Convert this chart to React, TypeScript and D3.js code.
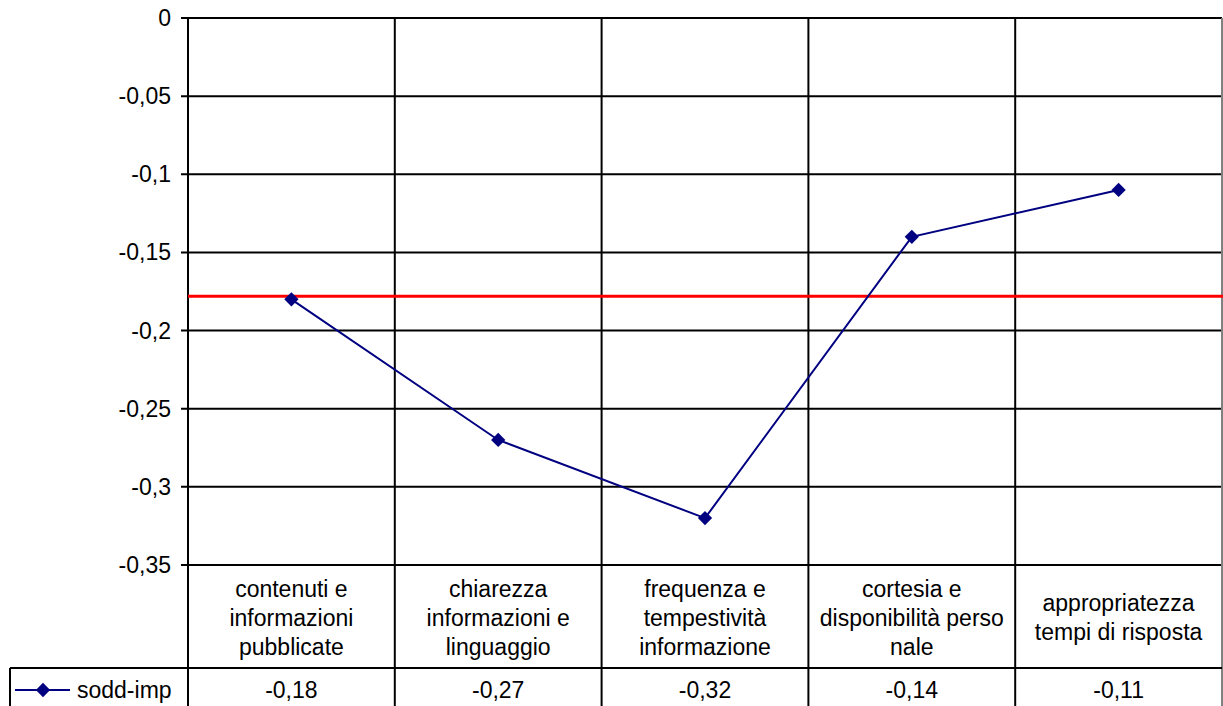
import React, { useEffect, useRef } from "react"
import * as d3 from "d3"

const categories = [
  "contenuti e informazioni pubblicate",
  "chiarezza informazioni e linguaggio",
  "frequenza e tempestività informazione",
  "cortesia e disponibilità personale",
  "appropriatezza tempi di risposta",
]

// how Excel wrapped each label in the data table
const categoryLines = [
  ["contenuti e", "informazioni", "pubblicate"],
  ["chiarezza", "informazioni e", "linguaggio"],
  ["frequenza e", "tempestività", "informazione"],
  ["cortesia e", "disponibilità perso", "nale"],
  ["appropriatezza", "tempi di risposta"],
]

const seriesName = "sodd-imp"
const values = [-0.18, -0.27, -0.32, -0.14, -0.11]
const yTicks = [0, -0.05, -0.1, -0.15, -0.2, -0.25, -0.3, -0.35]
const referenceValue = -0.178

const W = 1223
const H = 706
const plot = { left: 188, right: 1222, top: 18, bottom: 565 }
const catRowBottom = 668
const legendLeft = 10
const font = "'Liberation Sans', Arial, sans-serif"
const fontSize = 23
const navy = "#000080"

const itLocale = d3.formatLocale({
  decimal: ",",
  thousands: ".",
  grouping: [3],
  currency: ["€", ""],
  minus: "-",
})
const fmt = itLocale.format("~g")

const App: React.FC = () => {
  const svgRef = useRef<SVGSVGElement>(null)

  useEffect(() => {
    if (!svgRef.current) return
    const svg = d3.select(svgRef.current)
    svg.selectAll("*").remove()

    const x = d3.scaleBand<string>().domain(categories).range([plot.left, plot.right])
    const y = d3.scaleLinear().domain([0, -0.35]).range([plot.top, plot.bottom])
    const cx = (c: string) => (x(c) as number) + x.bandwidth() / 2

    // horizontal gridlines + ticks
    const grid = svg.append("g")
    grid
      .selectAll("line")
      .data(yTicks)
      .join("line")
      .attr("x1", plot.left - 7)
      .attr("x2", plot.right)
      .attr("y1", (d) => y(d))
      .attr("y2", (d) => y(d))
      .attr("stroke", "#000")
      .attr("stroke-width", 2)

    grid
      .selectAll("text")
      .data(yTicks)
      .join("text")
      .attr("x", 171)
      .attr("y", (d) => y(d))
      .attr("dy", "0.35em")
      .attr("text-anchor", "end")
      .attr("font-family", font)
      .attr("font-size", fontSize)
      .text((d) => fmt(d))

    // vertical category separators through plot and table
    const bounds = categories.map((c) => x(c) as number)
    svg
      .append("g")
      .selectAll("line")
      .data(bounds)
      .join("line")
      .attr("x1", (d) => d)
      .attr("x2", (d) => d)
      .attr("y1", plot.top)
      .attr("y2", H)
      .attr("stroke", "#000")
      .attr("stroke-width", 2)

    // right border (grey)
    svg
      .append("line")
      .attr("x1", plot.right)
      .attr("x2", plot.right)
      .attr("y1", plot.top)
      .attr("y2", H)
      .attr("stroke", "#808080")
      .attr("stroke-width", 2)

    // table row separator + legend cell
    svg
      .append("line")
      .attr("x1", legendLeft)
      .attr("x2", plot.right)
      .attr("y1", catRowBottom)
      .attr("y2", catRowBottom)
      .attr("stroke", "#000")
      .attr("stroke-width", 2)
    svg
      .append("line")
      .attr("x1", legendLeft)
      .attr("x2", legendLeft)
      .attr("y1", catRowBottom)
      .attr("y2", H)
      .attr("stroke", "#000")
      .attr("stroke-width", 2)

    // category labels
    const lh = 29
    const catMid = (plot.bottom + catRowBottom) / 2 + 1
    const cats = svg.append("g")
    categories.forEach((c, i) => {
      const lines = categoryLines[i]
      const start = catMid - ((lines.length - 1) * lh) / 2
      cats
        .append("text")
        .attr("text-anchor", "middle")
        .attr("font-family", font)
        .attr("font-size", fontSize)
        .selectAll("tspan")
        .data(lines)
        .join("tspan")
        .attr("x", cx(c))
        .attr("y", (_, j) => start + j * lh)
        .attr("dy", "0.35em")
        .text((d) => d)
    })

    // data row values
    const rowMid = 690
    svg
      .append("g")
      .selectAll("text")
      .data(values)
      .join("text")
      .attr("x", (_, i) => cx(categories[i]))
      .attr("y", rowMid)
      .attr("dy", "0.35em")
      .attr("text-anchor", "middle")
      .attr("font-family", font)
      .attr("font-size", fontSize)
      .text((d) => fmt(d))

    // legend key
    const diamond = d3.symbol().type(d3.symbolDiamond2).size(130)
    svg
      .append("line")
      .attr("x1", 15)
      .attr("x2", 70)
      .attr("y1", rowMid)
      .attr("y2", rowMid)
      .attr("stroke", navy)
      .attr("stroke-width", 2)
    svg
      .append("path")
      .attr("d", diamond() as string)
      .attr("transform", `translate(43,${rowMid})`)
      .attr("fill", navy)
    svg
      .append("text")
      .attr("x", 77)
      .attr("y", rowMid)
      .attr("dy", "0.35em")
      .attr("font-family", font)
      .attr("font-size", fontSize)
      .text(seriesName)

    // reference line
    svg
      .append("line")
      .attr("x1", plot.left)
      .attr("x2", W)
      .attr("y1", y(referenceValue))
      .attr("y2", y(referenceValue))
      .attr("stroke", "#ff0000")
      .attr("stroke-width", 3)

    // series line
    const line = d3
      .line<number>()
      .x((_, i) => cx(categories[i]))
      .y((d) => y(d))
    svg
      .append("path")
      .datum(values)
      .attr("fill", "none")
      .attr("stroke", navy)
      .attr("stroke-width", 2)
      .attr("d", line)

    svg
      .append("g")
      .selectAll("path")
      .data(values)
      .join("path")
      .attr("d", diamond() as string)
      .attr("transform", (d, i) => `translate(${cx(categories[i])},${y(d)})`)
      .attr("fill", navy)
  }, [])

  return (
    <div style={{ position: "absolute", left: 0, top: 0, width: W, height: H, background: "#fff" }}>
      <svg ref={svgRef} width={W} height={H}></svg>
    </div>
  )
}

export default App
